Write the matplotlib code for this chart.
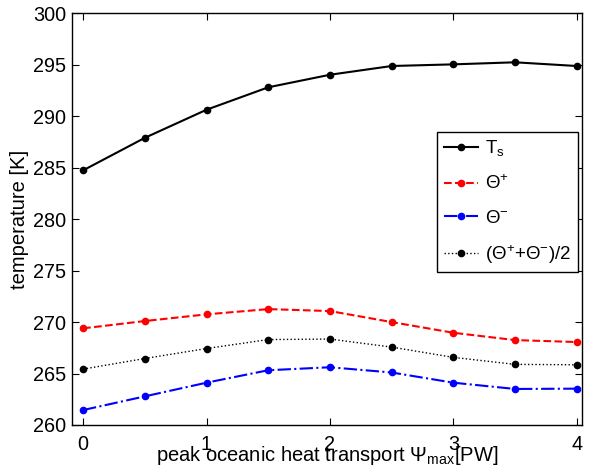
import numpy as np
import matplotlib
matplotlib.use("Agg")
import matplotlib.pyplot as plt

plt.rcParams["font.family"] = ["Liberation Sans", "DejaVu Sans"]
plt.rcParams["mathtext.fontset"] = "custom"
plt.rcParams["mathtext.rm"] = "Liberation Sans"
plt.rcParams["mathtext.it"] = "Liberation Sans"
plt.rcParams["mathtext.default"] = "regular"

psi_max = [0, 0.5, 1, 1.5, 2, 2.5, 3, 3.5, 4]
t_surf = [284.74, 287.9, 290.63, 292.81, 294.03, 294.88, 295.04, 295.24, 294.88]
theta_plus = [269.39, 270.1, 270.75, 271.26, 271.07, 270.0, 268.96, 268.25, 268.06]
theta_minus = [261.45, 262.78, 264.11, 265.32, 265.61, 265.1, 264.11, 263.5, 263.53]
theta_mean = [265.43, 266.46, 267.43, 268.3, 268.35, 267.57, 266.57, 265.89, 265.85]

fig = plt.figure(figsize=(5.89, 4.72), dpi=100)
ax = fig.add_axes([0.1222, 0.0996, 0.8654, 0.8722])

ax.plot(psi_max, t_surf, "k-", marker="o", ms=4.5, lw=1.5, label="T$_s$")
ax.plot(psi_max, theta_plus, "r--", marker="o", ms=4.5, lw=1.5, label="$\\Theta^{+}$")
ax.plot(psi_max, theta_minus, "b-.", marker="o", ms=4.5, lw=1.5, label="$\\Theta^{-}$")
ax.plot(psi_max, theta_mean, "k:", marker="o", ms=4.5, lw=1.0,
        label="$(\\Theta^{+}$+$\\Theta^{-})/2$")

ax.set_xlim(-0.09, 4.04)
ax.set_ylim(260, 300)
ax.set_xticks([0, 1, 2, 3, 4])
ax.set_yticks(np.arange(260, 301, 5))
ax.tick_params(direction="in", top=True, right=True, labelsize=14.3, length=5)
ax.tick_params(axis="x", pad=7)
ax.tick_params(axis="y", pad=4)
for s in ax.spines.values():
    s.set_linewidth(1.0)

ax.set_xlabel("peak oceanic heat transport $\\Psi_{max}$[PW]", fontsize=14.5, labelpad=-7)
ax.set_ylabel("temperature [K]", fontsize=14.5, labelpad=3)

leg = ax.legend(loc="upper right", bbox_to_anchor=(0.992, 0.712), borderaxespad=0,
                fontsize=13.5, handlelength=1.85, handletextpad=0.35, labelspacing=0.87,
                fancybox=False, framealpha=1, edgecolor="k", borderpad=0.35)
leg.get_frame().set_linewidth(1.0)

fig.savefig("out.png", dpi=100)
